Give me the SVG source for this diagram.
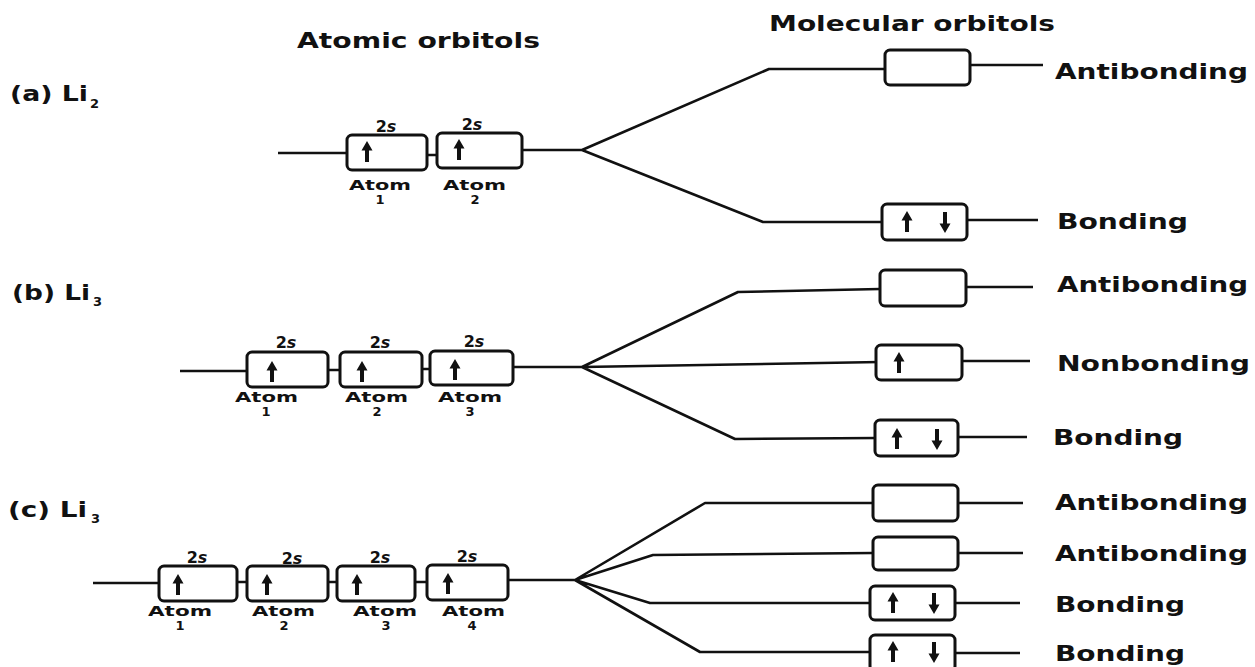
<svg xmlns="http://www.w3.org/2000/svg" width="1255" height="667" viewBox="0 0 1255 667">
<style>
.t{font-family:"DejaVu Sans","Liberation Sans",sans-serif;font-weight:bold;fill:#111}
.big{font-size:22px}
.hd{font-size:22px}
.sm{font-size:14px}
.sub{font-size:13px}
.s2{font-size:16px;text-anchor:middle}
.dg{font-size:13px;text-anchor:middle}
.box{fill:#fff;stroke:#111;stroke-width:3;}
.ln{fill:none;stroke:#111;stroke-width:2.6;stroke-linejoin:round;stroke-linecap:butt}
</style>
<defs>
<path id="up" d="M0,-11 L-5.5,-1.5 L-2,-1.5 L-2,10 L2,10 L2,-1.5 L5.5,-1.5 Z" fill="#111"/>
<path id="dn" d="M0,11 L-5.5,1.5 L-2,1.5 L-2,-10 L2,-10 L2,1.5 L5.5,1.5 Z" fill="#111"/>
</defs>
<rect width="1255" height="667" fill="#fff"/>

<g id="headers">
<text class="t hd" x="297" y="48" textLength="243" lengthAdjust="spacingAndGlyphs">Atomic orbitols</text>
<text class="t hd" x="769" y="31" textLength="286" lengthAdjust="spacingAndGlyphs">Molecular orbitols</text>
</g>

<g id="connectors">
<path class="ln" d="M278,153 H347 M427,155 H437 M522,150 H582 L769,69 H885 M582,150 L763,222 H882 M970,65 H1043 M967,220 H1038"/>
<path class="ln" d="M180,371 H247 M328,370 H340 M422,369 H430 M513,367 H582 L738,292 L880,289 M582,367 L880,362 M582,367 L735,439 L877,438 M966,287 H1033 M962,361 H1030 M958,437 H1027"/>
<path class="ln" d="M93,583 H159 M237,582 H247 M328,582 H337 M415,582 H427 M508,580 H575 L705,503 H873 M575,580 L653,555 L873,553 M575,580 L650,603 H870 M575,580 L700,652 H870 M958,503 H1023 M958,553 H1023 M955,603 H1020 M955,653 H1020"/>
</g>

<g id="a-label"><text class="t big" x="10" y="101" textLength="78" lengthAdjust="spacingAndGlyphs">(a) Li</text><text class="t sub" x="90" y="108">2</text></g>
<g id="b-label"><text class="t big" x="12" y="300" textLength="78" lengthAdjust="spacingAndGlyphs">(b) Li</text><text class="t sub" x="93" y="306">3</text></g>
<g id="c-label"><text class="t big" x="8" y="517" textLength="79" lengthAdjust="spacingAndGlyphs">(c) Li</text><text class="t sub" x="91" y="523">3</text></g>

<g id="a-atom1">
<rect class="box" x="347" y="135" width="80" height="35" rx="5"/>
<use href="#up" x="367" y="152"/>
<text class="t s2" x="386" y="132">2<tspan font-style="italic">s</tspan></text>
<text class="t sm" x="349" y="190" textLength="62" lengthAdjust="spacingAndGlyphs">Atom</text>
<text class="t dg" x="380" y="204">1</text>
</g>
<g id="a-atom2">
<rect class="box" x="437" y="133" width="85" height="35" rx="5"/>
<use href="#up" x="459" y="150"/>
<text class="t s2" x="472" y="130">2<tspan font-style="italic">s</tspan></text>
<text class="t sm" x="443" y="190" textLength="63" lengthAdjust="spacingAndGlyphs">Atom</text>
<text class="t dg" x="475" y="204">2</text>
</g>
<g id="a-anti">
<rect class="box" x="885" y="50" width="85" height="35" rx="5"/>
<text class="t big" x="1055" y="79" textLength="193" lengthAdjust="spacingAndGlyphs">Antibonding</text>
</g>
<g id="a-bond">
<rect class="box" x="882" y="204" width="85" height="36" rx="5"/>
<use href="#up" x="907" y="222"/><use href="#dn" x="945" y="222"/>
<text class="t big" x="1057" y="229" textLength="131" lengthAdjust="spacingAndGlyphs">Bonding</text>
</g>

<g id="b-atom1">
<rect class="box" x="247" y="352" width="81" height="35" rx="5"/>
<use href="#up" x="272" y="372"/>
<text class="t s2" x="286" y="348">2<tspan font-style="italic">s</tspan></text>
<text class="t sm" x="235" y="402" textLength="63" lengthAdjust="spacingAndGlyphs">Atom</text>
<text class="t dg" x="266" y="416">1</text>
</g>
<g id="b-atom2">
<rect class="box" x="340" y="352" width="82" height="35" rx="5"/>
<use href="#up" x="362" y="372"/>
<text class="t s2" x="380" y="348">2<tspan font-style="italic">s</tspan></text>
<text class="t sm" x="345" y="402" textLength="63" lengthAdjust="spacingAndGlyphs">Atom</text>
<text class="t dg" x="377" y="416">2</text>
</g>
<g id="b-atom3">
<rect class="box" x="430" y="351" width="83" height="34" rx="5"/>
<use href="#up" x="455" y="370"/>
<text class="t s2" x="474" y="347">2<tspan font-style="italic">s</tspan></text>
<text class="t sm" x="438" y="402" textLength="64" lengthAdjust="spacingAndGlyphs">Atom</text>
<text class="t dg" x="470" y="416">3</text>
</g>
<g id="b-anti">
<rect class="box" x="880" y="270" width="86" height="36" rx="5"/>
<text class="t big" x="1057" y="292" textLength="191" lengthAdjust="spacingAndGlyphs">Antibonding</text>
</g>
<g id="b-nonb">
<rect class="box" x="876" y="345" width="86" height="35" rx="5"/>
<use href="#up" x="899" y="363"/>
<text class="t big" x="1057" y="371" textLength="193" lengthAdjust="spacingAndGlyphs">Nonbonding</text>
</g>
<g id="b-bond">
<rect class="box" x="875" y="420" width="83" height="36" rx="5"/>
<use href="#up" x="897" y="439"/><use href="#dn" x="937" y="439"/>
<text class="t big" x="1053" y="445" textLength="130" lengthAdjust="spacingAndGlyphs">Bonding</text>
</g>

<g id="c-atom1">
<rect class="box" x="159" y="566" width="78" height="35" rx="5"/>
<use href="#up" x="178" y="585"/>
<text class="t s2" x="197" y="563">2<tspan font-style="italic">s</tspan></text>
<text class="t sm" x="148" y="616" textLength="64" lengthAdjust="spacingAndGlyphs">Atom</text>
<text class="t dg" x="180" y="630">1</text>
</g>
<g id="c-atom2">
<rect class="box" x="247" y="566" width="81" height="35" rx="5"/>
<use href="#up" x="267" y="585"/>
<text class="t s2" x="292" y="564">2<tspan font-style="italic">s</tspan></text>
<text class="t sm" x="252" y="616" textLength="63" lengthAdjust="spacingAndGlyphs">Atom</text>
<text class="t dg" x="284" y="630">2</text>
</g>
<g id="c-atom3">
<rect class="box" x="337" y="566" width="78" height="35" rx="5"/>
<use href="#up" x="357" y="585"/>
<text class="t s2" x="380" y="563">2<tspan font-style="italic">s</tspan></text>
<text class="t sm" x="353" y="616" textLength="64" lengthAdjust="spacingAndGlyphs">Atom</text>
<text class="t dg" x="386" y="630">3</text>
</g>
<g id="c-atom4">
<rect class="box" x="427" y="565" width="81" height="35" rx="5"/>
<use href="#up" x="448" y="584"/>
<text class="t s2" x="467" y="562">2<tspan font-style="italic">s</tspan></text>
<text class="t sm" x="442" y="616" textLength="63" lengthAdjust="spacingAndGlyphs">Atom</text>
<text class="t dg" x="472" y="630">4</text>
</g>
<g id="c-anti1">
<rect class="box" x="873" y="485" width="85" height="36" rx="5"/>
<text class="t big" x="1055" y="510" textLength="193" lengthAdjust="spacingAndGlyphs">Antibonding</text>
</g>
<g id="c-anti2">
<rect class="box" x="873" y="537" width="85" height="33" rx="5"/>
<text class="t big" x="1055" y="561" textLength="193" lengthAdjust="spacingAndGlyphs">Antibonding</text>
</g>
<g id="c-bond1">
<rect class="box" x="870" y="586" width="85" height="34" rx="5"/>
<use href="#up" x="893" y="603"/><use href="#dn" x="934" y="603"/>
<text class="t big" x="1055" y="612" textLength="130" lengthAdjust="spacingAndGlyphs">Bonding</text>
</g>
<g id="c-bond2">
<rect class="box" x="870" y="635" width="85" height="36" rx="5"/>
<use href="#up" x="893" y="652"/><use href="#dn" x="934" y="652"/>
<text class="t big" x="1055" y="661" textLength="130" lengthAdjust="spacingAndGlyphs">Bonding</text>
</g>
</svg>
